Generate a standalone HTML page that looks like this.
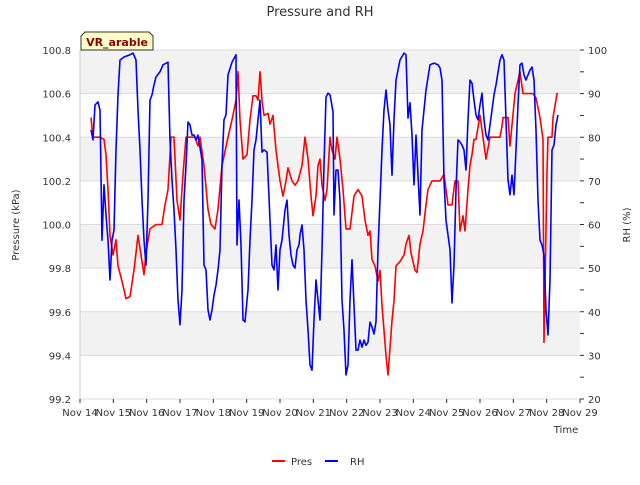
<!DOCTYPE html>
<html><head><meta charset="utf-8"><style>
body{margin:0;background:#fff;font-family:"Liberation Sans","DejaVu Sans",sans-serif;}
svg text{font-family:"DejaVu Sans","Liberation Sans",sans-serif;}
</style></head><body>
<svg id="c" width="640" height="480" xmlns="http://www.w3.org/2000/svg">
<text x="320" y="16" text-anchor="middle" font-size="13" fill="#333">Pressure and RH</text>
<g id="grid"></g>
<g id="axes"></g>
<g id="series"></g>
<text x="566" y="433" text-anchor="middle" font-size="10" fill="#333">Time</text>
<text transform="translate(19,225) rotate(-90)" text-anchor="middle" font-size="10" fill="#333">Pressure (kPa)</text>
<text transform="translate(630,225) rotate(-90)" text-anchor="middle" font-size="10" fill="#333">RH (%)</text>
<g>
<path d="M81,50 L81,36 L85,32 L149,32 L153,36 L153,50 Z" fill="#ffffc8" stroke="#333" stroke-width="1"/>
<text x="117" y="46" text-anchor="middle" font-size="11" font-weight="bold" fill="#8b0000">VR_arable</text>
</g>
<g>
<g><line x1="272" y1="461" x2="285" y2="461" stroke="#f00" stroke-width="2"/><text x="291" y="465" font-size="10" fill="#333">Pres</text></g>
<g><line x1="325" y1="461" x2="338" y2="461" stroke="#00f" stroke-width="2"/><text x="350" y="465" font-size="10" fill="#333">RH</text></g>
</g>
</svg>
<script>
const xTickLabels=["Nov 14","Nov 15","Nov 16","Nov 17","Nov 18","Nov 19","Nov 20","Nov 21","Nov 22","Nov 23","Nov 24","Nov 25","Nov 26","Nov 27","Nov 28","Nov 29"];
const presTicks=[99.2,99.4,99.6,99.8,100.0,100.2,100.4,100.6,100.8];
const rhTicks=[20,30,40,50,60,70,80,90,100];
const presDays=[0.33,0.39,0.6,0.72,0.78,0.84,0.9,0.99,1.08,1.14,1.26,1.38,1.5,1.62,1.74,1.83,1.92,1.98,2.1,2.28,2.46,2.55,2.64,2.73,2.82,2.91,3.0,3.09,3.18,3.45,3.54,3.6,3.72,3.84,3.93,4.05,4.14,4.26,4.44,4.56,4.68,4.74,4.8,4.89,5.01,5.1,5.19,5.28,5.34,5.4,5.46,5.52,5.64,5.7,5.79,5.88,6.0,6.09,6.18,6.24,6.36,6.45,6.54,6.66,6.75,6.84,6.93,6.99,7.08,7.14,7.2,7.26,7.35,7.41,7.5,7.56,7.65,7.71,7.8,7.89,7.98,8.1,8.22,8.34,8.46,8.55,8.64,8.7,8.76,8.85,8.94,9.0,9.06,9.18,9.24,9.36,9.42,9.48,9.6,9.72,9.78,9.87,9.93,10.05,10.11,10.2,10.29,10.38,10.44,10.56,10.8,10.92,11.04,11.16,11.25,11.34,11.4,11.49,11.55,11.64,11.7,11.76,11.82,11.88,12.0,12.18,12.3,12.36,12.42,12.54,12.6,12.66,12.69,12.84,12.9,13.05,13.2,13.29,13.59,13.68,13.8,13.89,13.92,14.01,14.04,14.16,14.19,14.31,14.34];
const presVals=[100.49,100.40,100.40,100.39,100.32,100.16,99.95,99.86,99.93,99.81,99.74,99.66,99.67,99.79,99.95,99.86,99.77,99.87,99.98,100.00,100.00,100.09,100.16,100.40,100.40,100.11,100.02,100.23,100.40,100.40,100.36,100.40,100.27,100.07,100.00,99.98,100.07,100.27,100.40,100.48,100.57,100.70,100.48,100.30,100.32,100.48,100.59,100.59,100.57,100.70,100.57,100.50,100.51,100.46,100.50,100.34,100.20,100.13,100.20,100.26,100.20,100.18,100.20,100.27,100.40,100.30,100.13,100.04,100.13,100.27,100.30,100.18,100.11,100.16,100.40,100.34,100.30,100.40,100.30,100.16,99.98,99.98,100.13,100.16,100.13,100.02,99.95,99.97,99.84,99.81,99.74,99.79,99.63,99.40,99.31,99.56,99.65,99.81,99.83,99.86,99.91,99.95,99.87,99.79,99.78,99.91,99.97,100.09,100.16,100.20,100.20,100.23,100.09,100.09,100.20,100.20,99.97,100.04,99.97,100.16,100.27,100.32,100.39,100.39,100.50,100.30,100.40,100.40,100.40,100.40,100.40,100.45,100.49,100.49,100.36,100.60,100.70,100.60,100.60,100.58,100.49,100.39,99.46,100.24,100.40,100.40,100.49,100.60,100.60];
const rhDays=[0.33,0.39,0.45,0.54,0.6,0.66,0.72,0.78,0.84,0.9,0.96,1.02,1.08,1.14,1.2,1.32,1.5,1.59,1.68,1.74,1.8,1.86,1.92,1.98,2.04,2.1,2.16,2.22,2.28,2.4,2.49,2.64,2.7,2.76,2.82,2.88,2.94,3.0,3.06,3.12,3.18,3.24,3.3,3.36,3.42,3.48,3.54,3.66,3.72,3.78,3.84,3.9,3.96,4.02,4.08,4.14,4.2,4.26,4.32,4.38,4.44,4.56,4.68,4.71,4.77,4.83,4.89,4.95,5.04,5.1,5.16,5.22,5.28,5.34,5.4,5.46,5.52,5.61,5.7,5.76,5.82,5.88,5.94,6.0,6.06,6.15,6.21,6.27,6.33,6.39,6.45,6.51,6.57,6.6,6.66,6.72,6.78,6.84,6.9,6.96,7.02,7.08,7.14,7.2,7.26,7.32,7.38,7.44,7.5,7.53,7.59,7.62,7.68,7.74,7.8,7.86,7.92,7.98,8.04,8.1,8.16,8.22,8.28,8.34,8.4,8.46,8.52,8.58,8.64,8.7,8.76,8.82,8.88,8.94,9.0,9.06,9.12,9.18,9.24,9.3,9.36,9.42,9.48,9.6,9.72,9.78,9.84,9.9,9.96,10.02,10.08,10.14,10.2,10.26,10.32,10.38,10.5,10.62,10.74,10.8,10.86,10.92,10.98,11.04,11.1,11.16,11.22,11.28,11.34,11.4,11.46,11.52,11.58,11.64,11.7,11.76,11.82,11.88,11.94,12.0,12.06,12.12,12.18,12.24,12.3,12.36,12.42,12.48,12.6,12.66,12.72,12.78,12.84,12.9,12.96,13.02,13.08,13.14,13.2,13.26,13.32,13.38,13.44,13.5,13.56,13.62,13.68,13.74,13.8,13.86,13.92,13.98,14.04,14.1,14.16,14.22,14.28,14.34];
const rhVals=[81.7,79.4,87.4,88.1,86.2,56.4,69.1,62.2,56.4,47.3,56.4,58.7,77.1,89.7,97.7,98.4,98.9,99.3,97.7,86.2,77.1,65.6,56.4,50.7,65.6,88.5,89.7,92.0,93.8,95.0,96.6,97.2,79.4,70.2,63.3,54.2,42.7,37.0,45.0,65.6,73.6,83.5,82.8,80.5,80.5,79.4,80.5,74.8,50.7,49.6,40.4,38.1,40.4,43.8,46.1,49.6,54.2,73.6,84.0,85.1,94.3,97.2,98.9,55.3,65.6,55.3,38.1,37.7,45.0,56.4,65.6,77.1,79.4,84.0,88.5,76.6,77.1,76.6,61.0,50.7,49.6,55.3,45.0,54.2,56.4,63.3,65.6,57.6,53.0,50.7,50.0,54.2,55.3,57.6,59.9,54.2,42.7,35.8,27.8,26.6,38.1,47.3,42.7,38.1,54.2,73.6,89.2,90.1,89.7,88.5,85.8,62.2,72.5,72.5,65.6,42.7,35.8,25.5,27.8,42.7,51.9,41.5,31.2,31.2,33.5,31.9,33.5,32.3,33.0,37.6,36.5,34.9,37.7,54.2,65.6,77.1,86.2,90.8,86.2,82.8,71.3,84.0,93.1,97.7,99.3,98.9,84.4,87.9,80.5,69.1,80.5,71.3,62.2,81.7,86.2,90.8,96.6,97.0,96.6,95.9,93.1,70.2,61.0,57.6,54.2,42.0,50.7,67.9,79.4,78.9,78.2,77.1,72.5,84.0,93.1,92.4,88.5,85.1,84.0,87.4,90.1,84.0,80.5,79.4,82.8,86.2,89.7,92.0,97.7,98.9,97.7,84.0,70.2,66.8,71.3,66.8,77.1,87.4,96.6,97.0,94.3,93.1,94.3,95.4,96.1,93.1,81.7,65.6,56.4,55.3,53.0,40.4,34.7,47.3,77.1,78.2,82.8,85.1,86.2];

const X0=80,X1=580,Y0=50,Y1=399;
const xs=d=>X0+(X1-X0)*d/15;
const yp=v=>Y1-(v-99.2)/(100.8-99.2)*(Y1-Y0);
const yr=v=>Y1-(v-20)/80*(Y1-Y0);
const NS="http://www.w3.org/2000/svg";
function mk(t,a,p){const e=document.createElementNS(NS,t);for(const k in a)e.setAttribute(k,a[k]);p.appendChild(e);return e;}
const grid=document.getElementById('grid'),axes=document.getElementById('axes'),ser=document.getElementById('series');
for(let i=0;i<presTicks.length-1;i++){
  if(i%2===1){const b=mk('rect',{x:X0,y:yp(presTicks[i+1]),width:X1-X0,height:yp(presTicks[i])-yp(presTicks[i+1]),fill:'#f2f2f2'},grid);
  
  }
}
presTicks.forEach(v=>{
  const l=mk('line',{x1:X0,x2:X1,y1:yp(v),y2:yp(v),stroke:'#dcdcdc','stroke-width':1},grid);
  
  
  const t=mk('text',{x:71,y:yp(v)+4,'text-anchor':'end','font-size':10,fill:'#333'},axes);t.textContent=v.toFixed(1);
  
  
});
mk('line',{x1:X0,x2:X0,y1:Y0,y2:Y1,stroke:'#ccc'},axes);
rhTicks.forEach(v=>{
  const t=mk('text',{x:588,y:yr(v)+4,'font-size':10,fill:'#333'},axes);t.textContent=v;
  
  
});
for(let v=20;v<=100;v+=5){mk('line',{x1:X1,x2:X1+4,y1:yr(v),y2:yr(v),stroke:'#333'},axes);}
xTickLabels.forEach((s,i)=>{
  mk('line',{x1:xs(i),x2:xs(i),y1:Y1,y2:Y1+4,stroke:'#333'},axes);
  const t=mk('text',{x:xs(i),y:Y1+17,'text-anchor':'middle','font-size':10,fill:'#333'},axes);t.textContent=s;
  
  
});
const pr=mk('polyline',{points:presDays.map((d,i)=>xs(d).toFixed(1)+','+yp(presVals[i]).toFixed(1)).join(' '),fill:'none',stroke:'#f00','stroke-width':1.6,'stroke-linejoin':'round'},ser);


const rh=mk('polyline',{points:rhDays.map((d,i)=>xs(d).toFixed(1)+','+yr(rhVals[i]).toFixed(1)).join(' '),fill:'none',stroke:'#00f','stroke-width':1.6,'stroke-linejoin':'round'},ser);


</script>
</body></html>
